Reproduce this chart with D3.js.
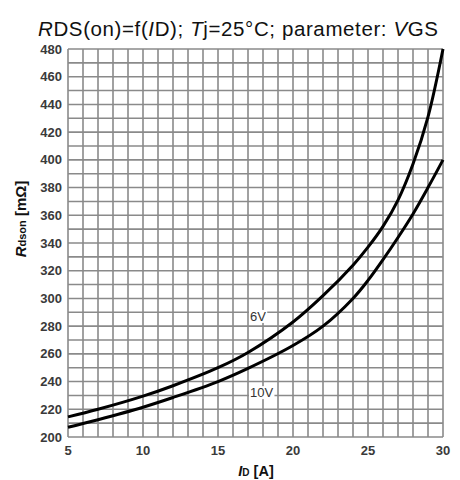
<!DOCTYPE html>
<html>
<head>
<meta charset="utf-8">
<script src="https://cdn.jsdelivr.net/npm/d3@7"></script>
<style>
  body { margin: 0; background: #fff; }
  svg { font-family: "Liberation Sans", Arial, sans-serif; }
</style>
</head>
<body>
<svg id="chart" width="460" height="480"></svg>
<script>
// drain current (A)
const currents = [5, 7, 10, 12, 15, 17, 20, 22, 24, 25, 26, 27, 28, 29, 30];
// Rdson (mOhm) per gate voltage
const r6V = [214.5, 220, 229.5, 237, 250, 261, 283, 302, 324, 337, 352, 371, 397, 431, 480];
const r10V = [207, 212.5, 221.5, 228.5, 240, 249.5, 266, 280, 300, 313, 328, 344, 361, 380, 400];
const xTicks = [5, 10, 15, 20, 25, 30];
const yTicks = [200, 220, 240, 260, 280, 300, 320, 340, 360, 380, 400, 420, 440, 460, 480];

const svg = d3.select("#chart");
const plotLeft = 68, plotRight = 443, plotTop = 49, plotBottom = 437;

const x = d3.scaleLinear().domain([5, 30]).range([plotLeft, plotRight]);
const y = d3.scaleLinear().domain([200, 480]).range([plotBottom, plotTop]);

// grid: 1 A and 10 mOhm
const grid = svg.append("g").attr("stroke", "#8a8a8a").attr("stroke-width", 1.6);
d3.range(5, 31, 1).forEach((v) => {
  grid.append("line").attr("x1", x(v)).attr("x2", x(v)).attr("y1", plotTop).attr("y2", plotBottom);
});
d3.range(200, 481, 10).forEach((v) => {
  grid.append("line").attr("x1", plotLeft).attr("x2", plotRight).attr("y1", y(v)).attr("y2", y(v));
});

// tick labels
svg.append("g")
  .selectAll("text")
  .data(yTicks)
  .join("text")
  .attr("x", plotLeft - 6)
  .attr("y", (d) => y(d) + 4.5)
  .attr("text-anchor", "end")
  .attr("font-size", 13)
  .attr("font-weight", "bold")
  .attr("fill", "#3a3a3a")
  .text((d) => d);

svg.append("g")
  .selectAll("text")
  .data(xTicks)
  .join("text")
  .attr("x", (d) => x(d))
  .attr("y", plotBottom + 18)
  .attr("text-anchor", "middle")
  .attr("font-size", 13)
  .attr("font-weight", "bold")
  .attr("fill", "#3a3a3a")
  .text((d) => d);

// curves
const line = d3.line()
  .x((d) => x(d[0]))
  .y((d) => y(d[1]))
  .curve(d3.curveCatmullRom.alpha(0.5));

[r6V, r10V].forEach((series) => {
  svg.append("path")
    .attr("d", line(currents.map((c, i) => [c, series[i]])))
    .attr("fill", "none")
    .attr("stroke", "#000")
    .attr("stroke-width", 3);
});

// curve labels
[["6V", 17, 287], ["10V", 17, 232]].forEach(([t, cx, cy]) => {
  const g = svg.append("g");
  const txt = g.append("text")
    .attr("x", x(cx) + 2)
    .attr("y", y(cy) + 4.5)
    .attr("font-size", 13)
    .attr("fill", "#333")
    .text(t);
  const bb = txt.node().getBBox();
  g.insert("rect", "text")
    .attr("x", bb.x - 1).attr("y", bb.y + 1)
    .attr("width", bb.width + 2).attr("height", bb.height - 2)
    .attr("fill", "#fff");
});

// title
const title = svg.append("text")
  .attr("x", 38)
  .attr("y", 36)
  .attr("font-size", 20.5)
  .attr("textLength", 400)
  .attr("lengthAdjust", "spacing")
  .attr("fill", "#111");
[["R", true], ["DS(on)=f(", false], ["I", true], ["D); ", false], ["T", true],
 ["j=25°C; parameter: ", false], ["V", true], ["GS", false]].forEach(([t, it]) => {
  title.append("tspan").attr("font-style", it ? "italic" : "normal").text(t);
});

// axis titles
const yl = svg.append("text")
  .attr("transform", `translate(26,219) rotate(-90)`)
  .attr("text-anchor", "middle")
  .attr("font-size", 15)
  .attr("font-weight", "bold")
  .attr("fill", "#111");
yl.append("tspan").attr("font-style", "italic").text("R");
yl.append("tspan").attr("font-size", 11).text("dson");
yl.append("tspan").text(" [mΩ]");

const xl = svg.append("text")
  .attr("x", 256)
  .attr("y", 476)
  .attr("text-anchor", "middle")
  .attr("font-size", 14.5)
  .attr("font-weight", "bold")
  .attr("fill", "#111");
xl.append("tspan").attr("font-style", "italic").text("I");
xl.append("tspan").attr("font-size", 10).text("D");
xl.append("tspan").text(" [A]");
</script>
</body>
</html>
